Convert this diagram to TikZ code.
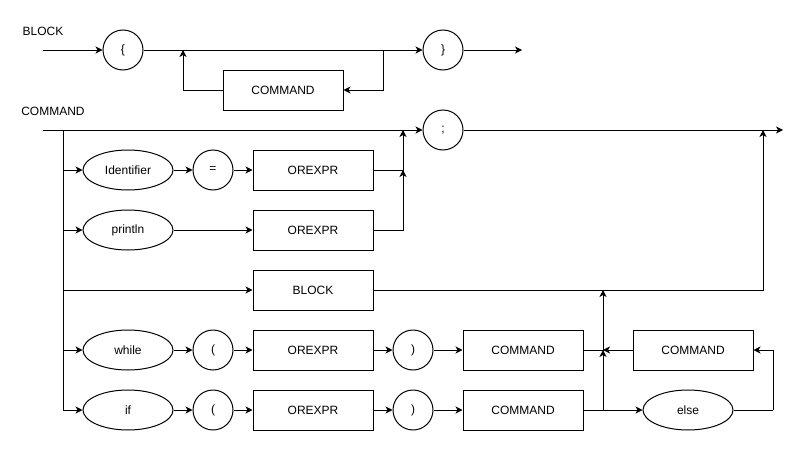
\documentclass[tikz,border=0pt]{standalone}
\usepackage{fontspec}
\setmainfont{Liberation Sans}
\usetikzlibrary{arrows.meta,shapes.geometric}
\begin{document}
\begin{tikzpicture}[x=1pt,y=-1pt,
  every node/.style={font=\fontsize{12}{14}\selectfont},
  term/.style={draw,circle,minimum size=40pt,inner sep=0pt,line width=1pt},
  word/.style={draw,ellipse,minimum width=90pt,minimum height=40pt,inner sep=0pt,line width=1pt},
  rulebox/.style={draw,rectangle,minimum width=120pt,minimum height=40pt,inner sep=0pt,line width=1pt},
  flow/.style={line width=1pt,-{Stealth[length=7pt,width=7pt,inset=2pt]}},
  wire/.style={line width=1pt},
  title/.style={inner sep=0pt}]
\useasboundingbox (0,0) rectangle (806,455);

% ---- BLOCK rule ----
\node[title] (tblock) at (43,31) {BLOCK};
\coordinate (bin) at (43,50);
\node[term] (lb) at (123,50) {\{};
\node[term] (rb) at (443,50) {\}};
\coordinate (bout) at (522,50);
\node[rulebox] (bcmd) at (283,90) {COMMAND};
\coordinate (bsplit) at (383,50);
\coordinate (bjoin) at (183,50);

\draw[flow] (bin) -- (lb);
\draw[flow] (lb) -- (rb);
\draw[flow] (rb) -- (bout);
\draw[flow] (bsplit) |- (bcmd.east);
\draw[flow] (bcmd.west) -| (bjoin);

% ---- COMMAND rule ----
\node[title] (tcmd) at (53,111) {COMMAND};
\coordinate (cin) at (43,130);
\coordinate (rail) at (63,130);
\node[term] (semi) at (443,130) {;};
\coordinate (cout) at (783,130);

\node[word] (ident) at (128,170) {Identifier};
\node[term] (eq) at (213,170) {=};
\node[rulebox] (ox1) at (313,170) {OREXPR};

\node[word] (prn) at (128,230) {println};
\node[rulebox] (ox2) at (313,230) {OREXPR};

\node[rulebox] (blk) at (313,290) {BLOCK};

\node[word] (whl) at (128,350) {while};
\node[term] (lp1) at (213,350) {(};
\node[rulebox] (ox3) at (313,350) {OREXPR};
\node[term] (rp1) at (413,350) {)};
\node[rulebox] (cw) at (523,350) {COMMAND};

\node[word] (iff) at (128,410) {if};
\node[term] (lp2) at (213,410) {(};
\node[rulebox] (ox4) at (313,410) {OREXPR};
\node[term] (rp2) at (413,410) {)};
\node[rulebox] (ci) at (523,410) {COMMAND};
\node[word] (els) at (688,410) {else};
\node[rulebox] (ce) at (693,350) {COMMAND};

\coordinate (m1) at (403,130);
\coordinate (m2) at (403,170);
\coordinate (m3) at (763,130);
\coordinate (m4) at (603,290);
\coordinate (m5) at (603,410);
\coordinate (m6) at (603,350);
\coordinate (eloop) at (773,410);

% main line and exit
\draw[flow] (cin) -- (semi);
\draw[flow] (semi) -- (cout);

% branches off the left rail
\draw[flow] (rail) |- (ident.west);
\draw[flow] (rail) |- (prn.west);
\draw[flow] (rail) |- (blk.west);
\draw[flow] (rail) |- (whl.west);
\draw[flow] (rail) |- (iff.west);

% assignment
\draw[flow] (ident) -- (eq);
\draw[flow] (eq) -- (ox1);
\draw[flow] (ox1.east) -| (m1);

% println
\draw[flow] (prn) -- (ox2);
\draw[flow] (ox2.east) -| (m2);

% block
\draw[flow] (blk.east) -| (m3);

% while
\draw[flow] (whl) -- (lp1);
\draw[flow] (lp1) -- (ox3);
\draw[flow] (ox3) -- (rp1);
\draw[flow] (rp1) -- (cw);
\draw[flow] (cw.east) -| (m4);

% if / else
\draw[flow] (iff) -- (lp2);
\draw[flow] (lp2) -- (ox4);
\draw[flow] (ox4) -- (rp2);
\draw[flow] (rp2) -- (ci);
\draw[wire] (ci.east) -- (m5);
\draw[flow] (m5) -- (els);
\draw[flow] (m5) -- (m6);
\draw[wire] (els.east) -- (eloop);
\draw[flow] (eloop) |- (ce.east);
\draw[flow] (ce.west) -- (m6);
\end{tikzpicture}
\end{document}
